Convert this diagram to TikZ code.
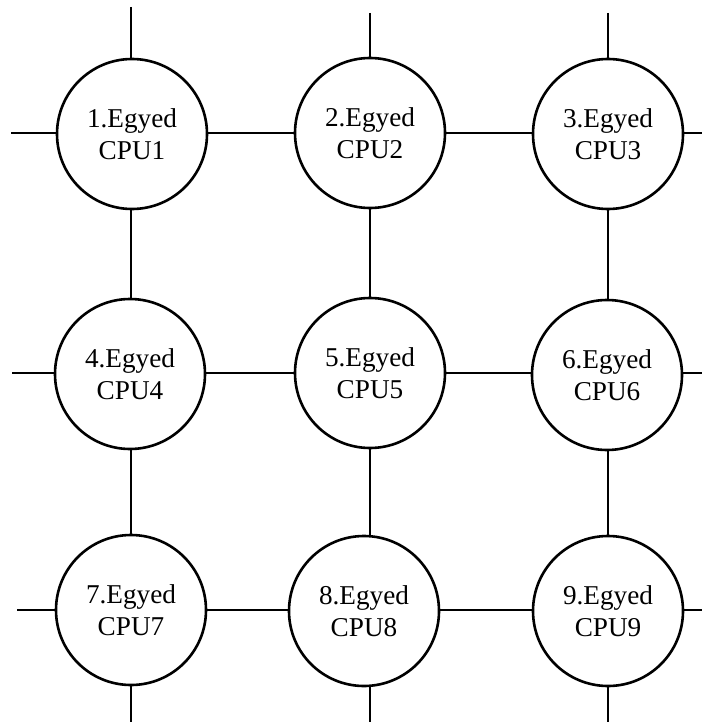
\documentclass[tikz,border=0pt]{standalone}
\usepackage{fontspec}
\setmainfont{Liberation Serif}
\begin{document}
\begin{tikzpicture}[x=1pt,y=-1pt,
  cpu/.style={circle,draw,line width=2.6pt,minimum size=150pt,inner sep=0pt,align=center,fill=white,
    font=\fontsize{27.2}{32}\selectfont},
  link/.style={line width=2.6pt}]
\useasboundingbox (0,0) rectangle (702,722);
\node[cpu] (n1) at (132,134) {1.Egyed\\CPU1};
\node[cpu] (n2) at (370,133) {2.Egyed\\CPU2};
\node[cpu] (n3) at (608,134) {3.Egyed\\CPU3};
\node[cpu] (n4) at (130,374) {4.Egyed\\CPU4};
\node[cpu] (n5) at (370,373) {5.Egyed\\CPU5};
\node[cpu] (n6) at (607,375) {6.Egyed\\CPU6};
\node[cpu] (n7) at (131,610) {7.Egyed\\CPU7};
\node[cpu] (n8) at (364,611) {8.Egyed\\CPU8};
\node[cpu] (n9) at (608,611) {9.Egyed\\CPU9};
\coordinate (t1) at (131,7);
\coordinate (t2) at (370,13);
\coordinate (t3) at (608,13);
\coordinate (l1) at (11,133);
\coordinate (l2) at (12,373);
\coordinate (l3) at (17,610);
\coordinate (r1) at (702,133);
\coordinate (r2) at (702,373);
\coordinate (r3) at (702,610);
\coordinate (b1) at (131,722);
\coordinate (b2) at (370,722);
\coordinate (b3) at (608,722);
% horizontal
\draw[link] (l1) -- (n1.west |- l1);
\draw[link] (n1.east |- l1) -- (n2.west |- l1);
\draw[link] (n2.east |- l1) -- (n3.west |- l1);
\draw[link] (n3.east |- r1) -- (r1);
\draw[link] (l2) -- (n4.west |- l2);
\draw[link] (n4.east |- l2) -- (n5.west |- l2);
\draw[link] (n5.east |- l2) -- (n6.west |- l2);
\draw[link] (n6.east |- r2) -- (r2);
\draw[link] (l3) -- (n7.west |- l3);
\draw[link] (n7.east |- l3) -- (n8.west |- l3);
\draw[link] (n8.east |- l3) -- (n9.west |- l3);
\draw[link] (n9.east |- r3) -- (r3);
% vertical
\draw[link] (t1) -- (t1 |- n1.north);
\draw[link] (t2) -- (t2 |- n2.north);
\draw[link] (t3) -- (t3 |- n3.north);
\draw[link] (b1 |- n1.south) -- (b1 |- n4.north);
\draw[link] (b2 |- n2.south) -- (b2 |- n5.north);
\draw[link] (b3 |- n3.south) -- (b3 |- n6.north);
\draw[link] (b1 |- n4.south) -- (b1 |- n7.north);
\draw[link] (b2 |- n5.south) -- (b2 |- n8.north);
\draw[link] (b3 |- n6.south) -- (b3 |- n9.north);
\draw[link] (b1 |- n7.south) -- (b1);
\draw[link] (b2 |- n8.south) -- (b2);
\draw[link] (b3 |- n9.south) -- (b3);
\end{tikzpicture}
\end{document}
